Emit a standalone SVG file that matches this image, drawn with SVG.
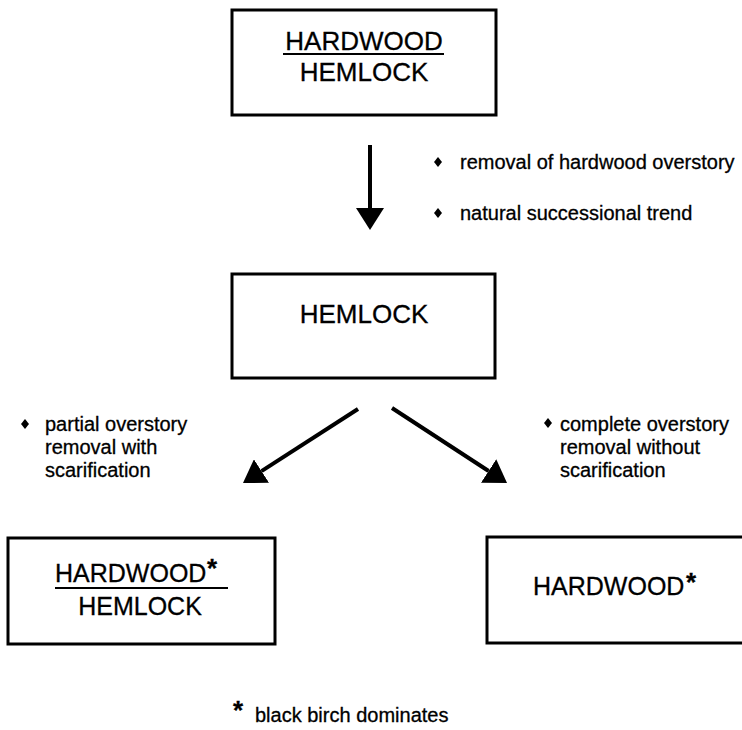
<svg xmlns="http://www.w3.org/2000/svg" width="742" height="730" viewBox="0 0 742 730">
<style>
.box{fill:#fff;stroke:#000;stroke-width:3}
.t{font-family:"Liberation Sans",Arial,Helvetica,sans-serif;fill:#000;stroke:#000;stroke-width:0.3}
.big{font-size:26px}
.mid{font-size:25px}
.lbl{font-size:20px}
.ast{font-size:26px;font-weight:bold}
.ul{stroke:#000;stroke-width:2}
.conn{stroke:#000;stroke-width:4;fill:none}
</style>
<defs>
<marker id="ah" viewBox="0 0 22 28" refX="0" refY="14" markerWidth="22" markerHeight="28" markerUnits="userSpaceOnUse" orient="auto">
<path d="M0,0 L22,14 L0,28 Z" fill="#000"/>
</marker>
<path id="dia" d="M0,-5 L4,0 L0,5 L-4,0 Z" fill="#000"/>
</defs>
<rect width="742" height="730" fill="#fff"/>

<g id="node-hardwood-hemlock-top">
<rect class="box" x="232" y="10" width="264" height="105"/>
<text class="t big" x="364" y="50" text-anchor="middle">HARDWOOD</text>
<line class="ul" x1="283" y1="54" x2="444" y2="54"/>
<text class="t big" x="364" y="81" text-anchor="middle">HEMLOCK</text>
</g>

<g id="node-hemlock">
<rect class="box" x="232" y="274" width="263" height="104"/>
<text class="t big" x="364" y="323" text-anchor="middle">HEMLOCK</text>
</g>

<g id="node-hardwood-hemlock-bottom">
<rect class="box" x="8" y="538" width="267" height="106"/>
<text class="t mid" x="55" y="582">HARDWOOD</text>
<text class="t ast" x="207" y="577">*</text>
<line class="ul" x1="55" y1="588" x2="228" y2="588"/>
<text class="t mid" x="140" y="615" text-anchor="middle">HEMLOCK</text>
</g>

<g id="node-hardwood">
<rect class="box" x="487" y="537" width="262" height="106"/>
<text class="t mid" x="533" y="595">HARDWOOD</text>
<text class="t ast" x="686" y="591">*</text>
</g>

<g id="connectors">
<line class="conn" x1="370" y1="145" x2="370" y2="208" marker-end="url(#ah)"/>
<line class="conn" x1="358" y1="409" x2="261.5" y2="471.1" marker-end="url(#ah)"/>
<line class="conn" x1="392" y1="408" x2="488.6" y2="471" marker-end="url(#ah)"/>
</g>

<g id="labels">
<use href="#dia" x="438" y="162"/>
<text class="t lbl" x="460" y="169">removal of hardwood overstory</text>
<use href="#dia" x="438" y="213"/>
<text class="t lbl" x="460" y="220">natural successional trend</text>

<use href="#dia" x="25" y="424"/>
<text class="t lbl" x="45" y="431">partial overstory</text>
<text class="t lbl" x="45" y="454">removal with</text>
<text class="t lbl" x="45" y="477">scarification</text>

<use href="#dia" x="548" y="423"/>
<text class="t lbl" x="560" y="431">complete overstory</text>
<text class="t lbl" x="560" y="454">removal without</text>
<text class="t lbl" x="560" y="477">scarification</text>

<text class="t ast" x="233" y="719">*</text>
<text class="t lbl" x="255" y="722">black birch dominates</text>
</g>
</svg>
